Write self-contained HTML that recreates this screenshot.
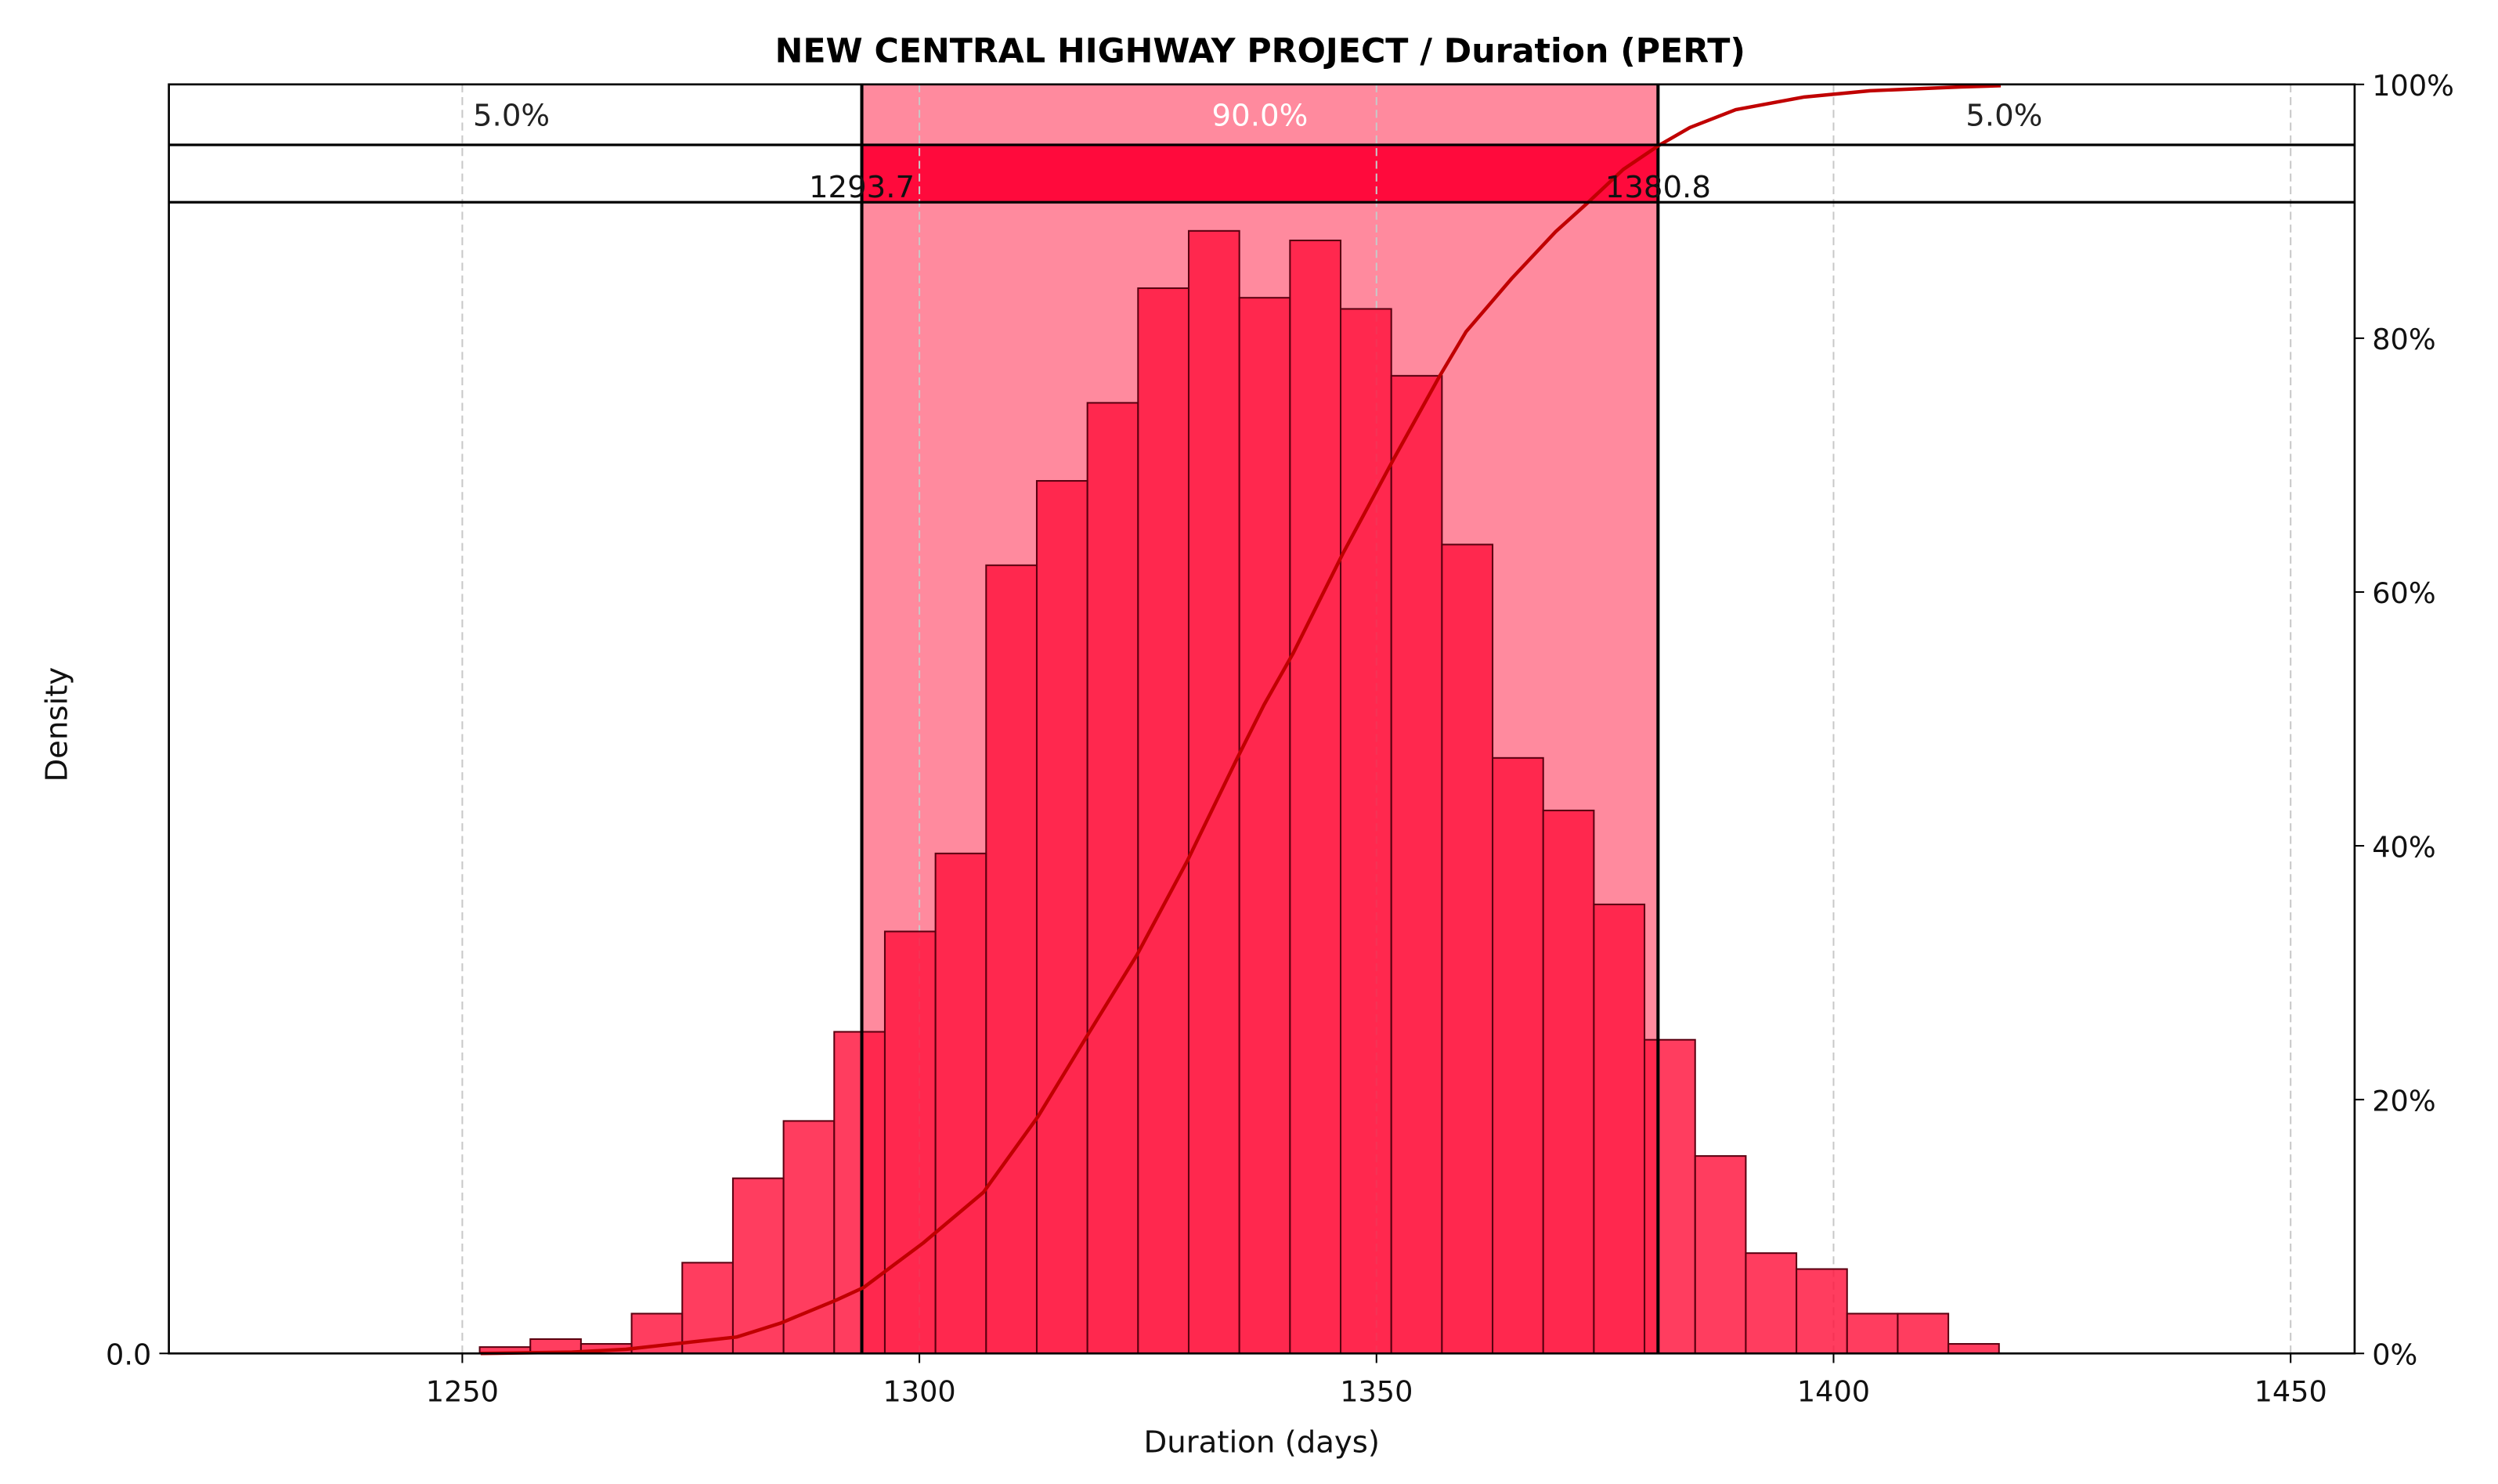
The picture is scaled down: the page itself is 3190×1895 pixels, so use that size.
<!DOCTYPE html>
<html><head><meta charset="utf-8"><style>
html,body{margin:0;padding:0;background:#fff;}
svg{display:block;font-family:"DejaVu Sans","Liberation Sans",sans-serif;}
</style></head><body>
<svg id="chart" width="3190" height="1895" viewBox="0 0 1568 932" preserveAspectRatio="none" xmlns="http://www.w3.org/2000/svg">
<text x="791" y="39" text-anchor="middle" font-size="21" font-weight="bold" fill="#000">NEW CENTRAL HIGHWAY PROJECT / Duration (PERT)</text>
<g id="layer"></g>
</svg>
<script>
const binStart = 1251.9;
const binWidth = 5.54;
const densityValues = [4, 9, 6, 25, 57, 110, 146, 202, 265, 314, 495, 548, 597, 669, 705, 663, 699, 656, 614, 508, 374, 341, 282, 197, 124, 63, 53, 25, 25, 6];
const cdfDays = [1252, 1262, 1267.9, 1274.0, 1280.0, 1284.8, 1290.9, 1293.9, 1300.4, 1307.0, 1313.0, 1318.4, 1323.8, 1329.3, 1334.7, 1337.7, 1340.9, 1346.3, 1351.9, 1356.9, 1359.8, 1364.8, 1369.6, 1373.0, 1377.0, 1380.9, 1384.3, 1389.3, 1396.7, 1404.0, 1413.9, 1418.3];
const cdfPct = [0, 0.1, 0.33, 0.82, 1.29, 2.38, 4.2, 5.2, 8.7, 12.7, 18.7, 25.1, 31.4, 38.8, 46.8, 51.1, 55.2, 63.0, 70.5, 77.0, 80.5, 84.7, 88.4, 90.6, 93.3, 95.2, 96.6, 98.0, 99.0, 99.5, 99.8, 99.9];
const xTicks = [1250, 1300, 1350, 1400, 1450];
const yTicksPct = [0, 20, 40, 60, 80, 100];
const pLow = 1293.7, pHigh = 1380.8;
const tailLabel = ["5.0%", "90.0%", "5.0%"];

const L = 106, R = 1478, T = 53, B = 850, H1 = 91, H2 = 127;
const xMin = 1217.9, xMax = 1457.0, densMax = 797;
const X = d => L + (d - xMin) / (xMax - xMin) * (R - L);
const Yd = v => B - v / densMax * (B - T);
const Yp = p => B - p / 100 * (B - T);
const NS = "http://www.w3.org/2000/svg";
const layer = document.getElementById('layer');
function mk(tag, attrs, parent) {
  const e = document.createElementNS(NS, tag);
  for (const k in attrs) e.setAttribute(k, attrs[k]);
  (parent || layer).appendChild(e);
  return e;
}
const xl = X(pLow), xh = X(pHigh);
let e = mk('rect', {x: xl, y: T, width: xh - xl, height: B - T, fill: '#ff8a9e'});


e = mk('rect', {x: xl, y: H1, width: xh - xl, height: H2 - H1, fill: '#ff0a3c'});


xTicks.forEach(t => {
  const g = mk('line', {x1: X(t), x2: X(t), y1: T, y2: B, stroke: '#c8c8c8', 'stroke-width': 1, 'stroke-dasharray': '5,3'});
  
  
});
densityValues.forEach((v, i) => {
  const x0 = X(binStart + i * binWidth), x1 = X(binStart + (i + 1) * binWidth);
  const b = mk('rect', {x: x0, y: Yd(v), width: x1 - x0, height: B - Yd(v), fill: 'rgb(255,18,60)', 'fill-opacity': 0.82, stroke: '#5a0010', 'stroke-width': 1});
  
  
});
[xl, xh].forEach(x => {
  const l = mk('line', {x1: x, x2: x, y1: T, y2: B, stroke: '#000', 'stroke-width': 2});
  
  
});
const pts = cdfDays.map((d, i) => X(d).toFixed(1) + ',' + Yp(cdfPct[i]).toFixed(1)).join(' ');
e = mk('polyline', {points: pts, fill: 'none', stroke: '#c00000', 'stroke-width': 2.2, 'stroke-linejoin': 'round'});


[H1, H2].forEach(y => {
  const l = mk('line', {x1: L, x2: R, y1: y, y2: y, stroke: '#000', 'stroke-width': 1.6});
  
  
});
e = mk('rect', {x: L, y: T, width: R - L, height: B - T, fill: 'none', stroke: '#000', 'stroke-width': 1.3});


tailLabel.forEach((s, i) => {
  const t = mk('text', {x: i === 0 ? 321 : (i === 2 ? 1258 : (xl + xh) / 2), y: 79, 'text-anchor': 'middle', 'font-size': 19, fill: i === 1 ? '#fff' : '#222'});
  t.textContent = s;
  
  
});
[pLow, pHigh].forEach(p => {
  const t = mk('text', {x: X(p), y: 124, 'text-anchor': 'middle', 'font-size': 19, fill: '#111'});
  t.textContent = p.toFixed(1);
  
  
});
xTicks.forEach(t => {
  const l = mk('line', {x1: X(t), x2: X(t), y1: B, y2: B + 6, stroke: '#000', 'stroke-width': 1});
  
  
  const tx = mk('text', {x: X(t), y: B + 30, 'text-anchor': 'middle', 'font-size': 18, fill: '#111'});
  tx.textContent = t;
  
  
});
yTicksPct.forEach(p => {
  const l = mk('line', {x1: R, x2: R + 6, y1: Yp(p), y2: Yp(p), stroke: '#000', 'stroke-width': 1});
  
  
  const tx = mk('text', {x: R + 11, y: Yp(p) + 7, 'font-size': 18, fill: '#111'});
  tx.textContent = p + '%';
  
  
});
e = mk('line', {x1: L - 6, x2: L, y1: B, y2: B, stroke: '#000', 'stroke-width': 1});


e = mk('text', {x: L - 11, y: B + 7, 'text-anchor': 'end', 'font-size': 18, fill: '#111'});
e.textContent = '0.0';


e = mk('text', {x: 792, y: 912, 'text-anchor': 'middle', 'font-size': 19, fill: '#111'});
e.textContent = 'Duration (days)';


e = mk('text', {x: 42, y: 455, 'text-anchor': 'middle', 'font-size': 19, fill: '#111', transform: 'rotate(-90 42 455)'});
e.textContent = 'Density';


</script>
</body></html>
